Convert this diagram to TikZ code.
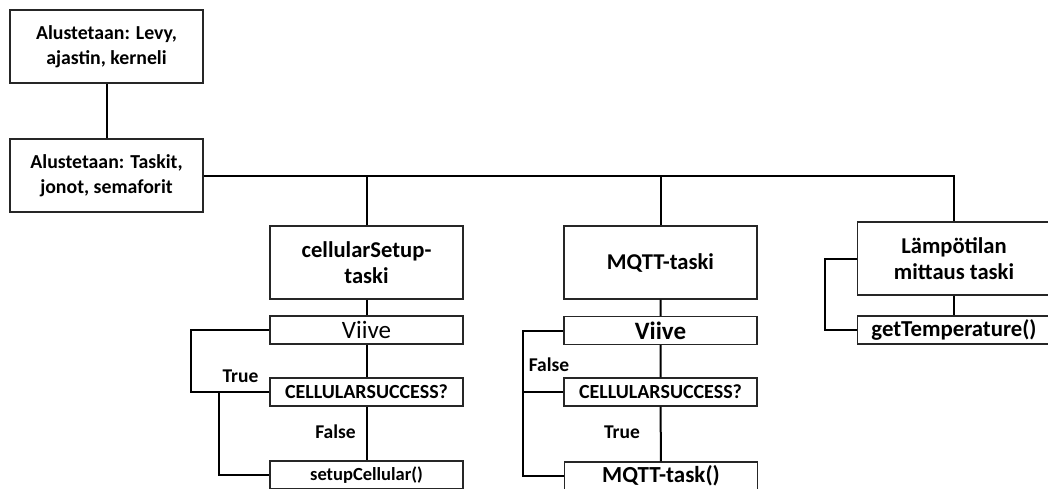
\documentclass[tikz,border=0pt]{standalone}
\usepackage{fontspec}
\setmainfont{Carlito}
\newcommand{\fs}[2]{\fontsize{#1}{#2}\selectfont}
\begin{document}
\begin{tikzpicture}[x=1pt,y=-1pt,
  box/.style={draw=black!85,line width=1.3pt,fill=white,rectangle,align=center,
    inner sep=0pt,font=\bfseries\fs{19.8}{25}},
  bigbox/.style={box,minimum width=193pt,minimum height=73pt},
  taskbox/.style={bigbox,font=\bfseries\fs{22.6}{26}},
  barbox/.style={box,minimum width=193pt,minimum height=28pt,font=\bfseries\fs{17}{20}},
  wire/.style={line width=2pt,black},
  lbl/.style={font=\bfseries\fs{19.5}{22},inner sep=0pt}]
\clip (0,0) rectangle (1048,488);
\useasboundingbox (0,0) rectangle (1048,488);
\fill[white] (0,0) rectangle (1048,488);

% column of the start-up steps
\node[bigbox] (init1) at (106.5,46.5) {Alustetaan: Levy,\\ajastin, kerneli};
\node[bigbox] (init2) at (106.5,175.5) {Alustetaan: Taskit,\\jonot, semaforit};

% the three tasks
\node[taskbox] (cs) at (366.5,262.5) {cellularSetup-\\taski};
\node[taskbox] (mq) at (660.5,262.5) {MQTT-taski};
\node[taskbox] (lt) at (954,258.5) {Lämpötilan\\mittaus taski};

% steps of cellularSetup
\node[barbox,font=\fs{25}{28}] (v1) at (366.5,330) {Viive};
\node[barbox,font=\bfseries\fs{20}{22}] (c1) at (366.5,392) {CELLULARSUCCESS?};
\node[barbox,font=\bfseries\fs{18.5}{21}] (su) at (366.5,475) {setupCellular()};

% steps of MQTT
\node[barbox,font=\bfseries\fs{25}{28}] (v2) at (660.5,330.5) {Viive};
\node[barbox,font=\bfseries\fs{20}{22}] (c2) at (660.5,392) {CELLULARSUCCESS?};
\node[barbox,font=\bfseries\fs{23}{26}] (mt) at (661,476) {MQTT-task()};

% step of the temperature task
\node[barbox,font=\bfseries\fs{22.8}{26}] (gt) at (954,330) {getTemperature()};

% bus from the initialisation to the tasks
\coordinate (busend) at (954,176);
\draw[wire] (init1) -- (init2);
\draw[wire] (init2.east |- busend) -- (busend) -- (lt.north);
\draw[wire] (cs.north) -- (cs.north |- busend);
\draw[wire] (mq.north) -- (mq.north |- busend);

% cellularSetup flow
\coordinate (csl) at (191,0);
\coordinate (cst) at (219,392);
\draw[wire] (cs) -- (v1) -- (c1) -- (su);
\draw[wire] (v1.west) -- (v1.west -| csl) |- (c1.west);
\draw[wire] (cst) |- (su.west);
\node[lbl] (ltrue1) at (240.5,376) {True};
\node[lbl] (lfalse1) at (335.5,432) {False};

% MQTT flow
\coordinate (mql) at (523,0);
\draw[wire] (mq) -- (v2) -- (c2) -- (mt);
\draw[wire] (v2.west) -- (v2.west -| mql) |- (mt.west);
\draw[wire] (c2.west) -- (c2.west -| mql);
\node[lbl] (lfalse2) at (549,365) {False};
\node[lbl] (ltrue2) at (622,432) {True};

% temperature flow
\coordinate (ltl) at (825,0);
\draw[wire] (lt) -- (gt);
\draw[wire] (lt.west) -- (lt.west -| ltl) |- (gt.west);
\end{tikzpicture}
\end{document}
